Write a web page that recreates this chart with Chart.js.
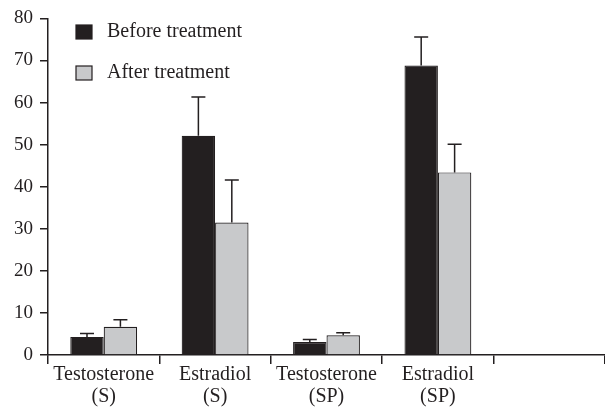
<!DOCTYPE html>
<html>
<head>
<meta charset="utf-8">
<script src="https://cdn.jsdelivr.net/npm/chart.js@4"></script>
<style>
  html, body { margin: 0; padding: 0; background: #fff; }
  #wrap { width: 605px; height: 410px; }
</style>
</head>
<body>
<div id="wrap"><canvas id="hormoneChart"></canvas></div>
<script>
// categorias (la ultima vacia, como en la figura)
const categories = [["Testosterone", "(S)"], ["Estradiol", "(S)"], ["Testosterone", "(SP)"], ["Estradiol", "(SP)"], ""];
const beforeValues = [4.3, 52.1, 3.1, 68.8, null];
const afterValues = [6.7, 31.5, 4.7, 43.4, null];
// limite superior de la barra de error
const beforeErrTop = [5.1, 61.3, 3.7, 75.6, null];
const afterErrTop = [8.4, 41.6, 5.3, 50.1, null];
const yTicks = [0, 10, 20, 30, 40, 50, 60, 70, 80];

const ink = '#231f20';
const serif = "'Liberation Serif', 'DejaVu Serif', serif";

// barras de error (solo hacia arriba)
const errorBars = {
  id: 'errorBars',
  afterDatasetsDraw(chart) {
    const ctx = chart.ctx;
    const y = chart.scales.y;
    const tops = [beforeErrTop, afterErrTop];
    ctx.save();
    ctx.strokeStyle = ink;
    ctx.lineWidth = 1.5;
    tops.forEach((arr, di) => {
      chart.getDatasetMeta(di).data.forEach((bar, i) => {
        if (arr[i] == null) return;
        const yTop = y.getPixelForValue(arr[i]);
        ctx.beginPath();
        ctx.moveTo(bar.x, bar.y);
        ctx.lineTo(bar.x, yTop);
        ctx.moveTo(bar.x - 7, yTop);
        ctx.lineTo(bar.x + 7, yTop);
        ctx.stroke();
      });
    });
    ctx.restore();
  }
};

// leyenda dentro del area del grafico
const insideLegend = {
  id: 'insideLegend',
  afterDraw(chart) {
    const ctx = chart.ctx;
    ctx.save();
    ctx.font = '20px ' + serif;
    ctx.textBaseline = 'middle';
    chart.data.datasets.forEach((ds, i) => {
      const cy = 32 + i * 41;
      ctx.fillStyle = ds.backgroundColor;
      ctx.strokeStyle = ink;
      ctx.lineWidth = 1.2;
      ctx.fillRect(76, cy - 7, 16, 14);
      ctx.strokeRect(76, cy - 7, 16, 14);
      ctx.fillStyle = ink;
      ctx.fillText(ds.label, 107, cy);
    });
    ctx.restore();
  }
};

const ctx = document.getElementById('hormoneChart').getContext('2d');
new Chart(ctx, {
  type: 'bar',
  data: {
    labels: categories,
    datasets: [{
      label: 'Before treatment',
      data: beforeValues,
      backgroundColor: ink,
      borderColor: ink,
      borderWidth: 1.2,
      categoryPercentage: 0.6,
      barPercentage: 1.0
    }, {
      label: 'After treatment',
      data: afterValues,
      backgroundColor: '#c8c9cb',
      borderColor: ink,
      borderWidth: 1.2,
      categoryPercentage: 0.6,
      barPercentage: 1.0
    }]
  },
  options: {
    responsive: true,
    maintainAspectRatio: false,
    animation: false,
    layout: { padding: { top: 17, right: 0, left: 0, bottom: 0 } },
    plugins: {
      legend: { display: false },
      tooltip: { enabled: false }
    },
    scales: {
      x: {
        offset: true,
        border: { color: ink, width: 1.5 },
        grid: { display: true, drawOnChartArea: false, color: ink, lineWidth: 1.5, tickLength: 9, offset: true },
        ticks: { color: ink, font: { family: serif, size: 20, lineHeight: 1.1 }, padding: 0, maxRotation: 0, autoSkip: false },
        afterFit(scale) { scale.height = 55; }
      },
      y: {
        min: 0,
        max: 80,
        afterBuildTicks(scale) { scale.ticks = yTicks.map(v => ({ value: v })); },
        border: { color: ink, width: 1.5 },
        grid: { display: true, drawOnChartArea: false, color: ink, lineWidth: 1.5, tickLength: 8 },
        ticks: { color: ink, font: { family: serif, size: 19 }, padding: 7 },
        afterFit(scale) { scale.width = 48; }
      }
    }
  },
  plugins: [errorBars, insideLegend]
});
</script>
</body>
</html>
